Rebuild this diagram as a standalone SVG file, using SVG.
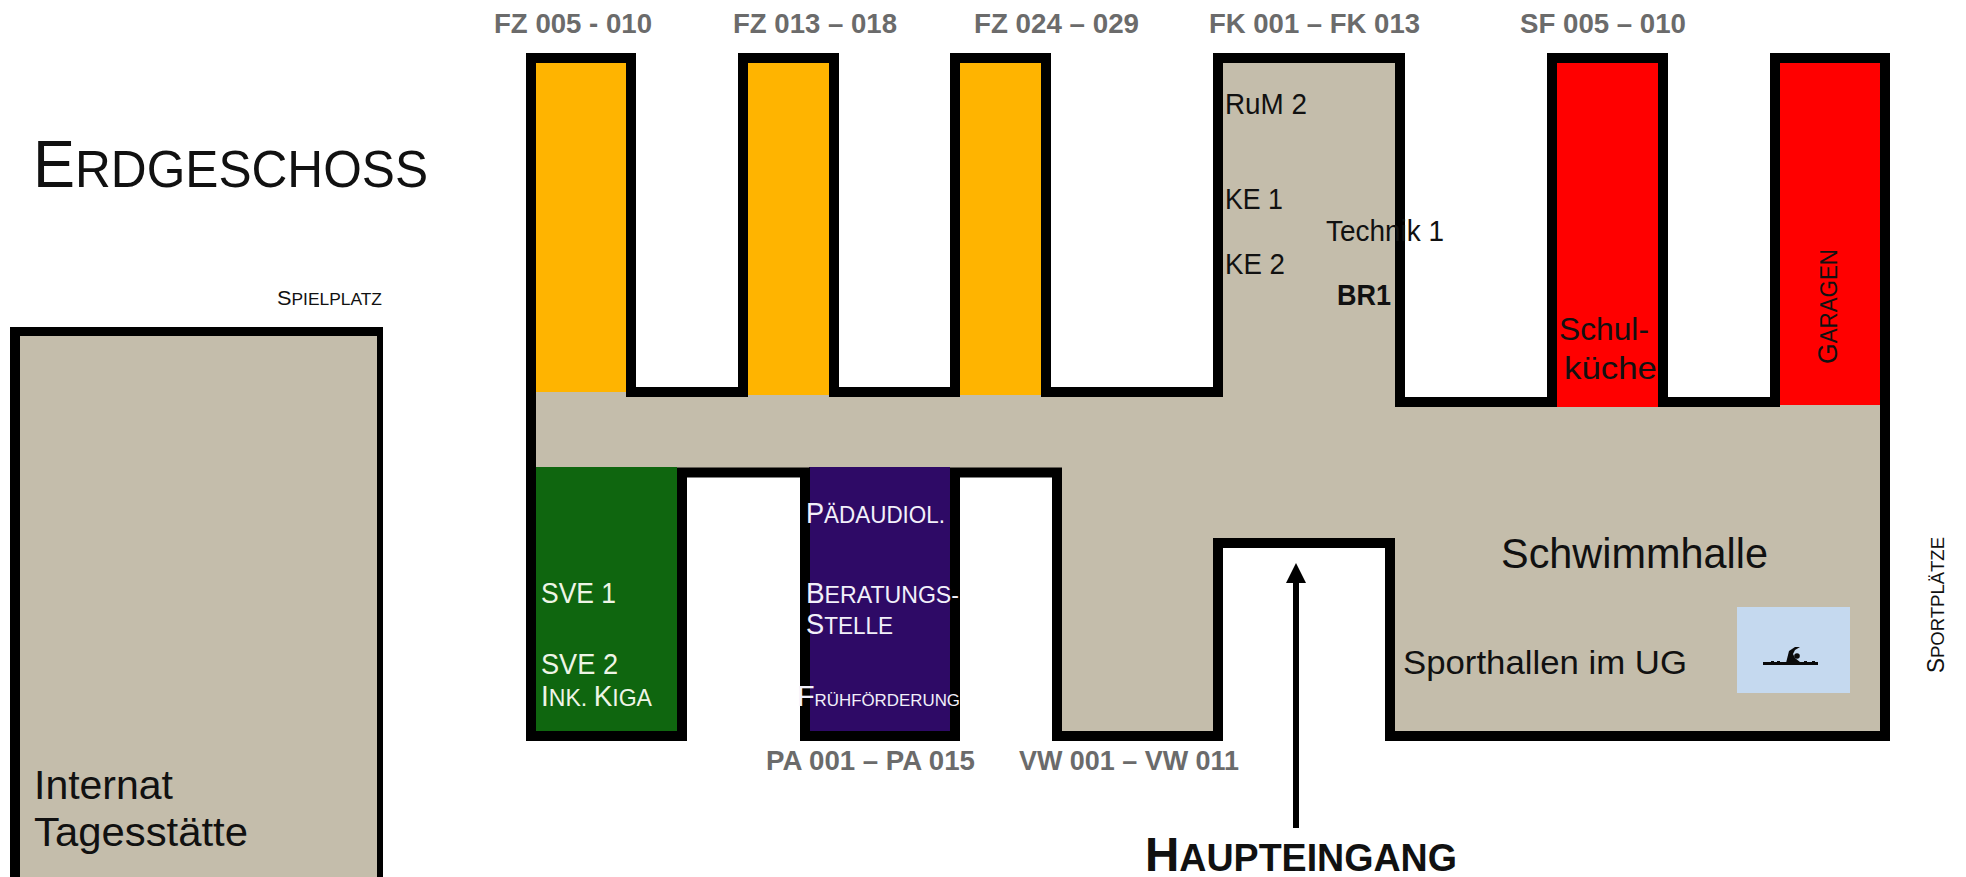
<svg xmlns="http://www.w3.org/2000/svg" width="1966" height="877" viewBox="0 0 1966 877">
<style>
text{font-family:"Liberation Sans",Arial,sans-serif;fill:#111}
.code{font-size:28px;font-weight:bold;fill:#6b6b6b}
.room{font-size:29px}
.lt{fill:#f2f0fa}
.gr{fill:#eef5e6}
.wall{fill:none;stroke:#000;stroke-width:10;stroke-linejoin:miter}
</style>
<defs>
<marker id="head" markerUnits="userSpaceOnUse" markerWidth="20" markerHeight="20" refX="0" refY="10" orient="auto"><path d="M0,0L20,10L0,20Z" fill="#000"/></marker>
</defs>
<rect width="1966" height="877" fill="#fff"/>
<text id="title" x="33" y="187" font-size="66" textLength="395" lengthAdjust="spacingAndGlyphs">E<tspan font-size="52">RDGESCHOSS</tspan></text>
<g id="internat">
<rect x="10" y="327" width="373" height="560" fill="#000"/>
<rect x="20" y="336" width="357" height="551" fill="#c4bdab"/>
<text x="34" y="799" font-size="41" textLength="139" lengthAdjust="spacingAndGlyphs">Internat</text>
<text x="34" y="846" font-size="41" textLength="214" lengthAdjust="spacingAndGlyphs">Tagesstätte</text>
<text x="277" y="305" font-size="20" textLength="105" lengthAdjust="spacingAndGlyphs">S<tspan font-size="16">PIELPLATZ</tspan></text>
</g>
<g id="building">
<path d="M531,58H631V392H743V58H834V392H955V58H1046V392H1218V58H1400V402H1552V58H1663V402H1775V58H1885V736H1390V543H1218V736H1057V472H955V736H805V472H682V736H531Z" fill="#c4bdab"/>
</g>
<g id="fz-wings">
<rect x="536" y="63" width="90" height="329" fill="#ffb400"/>
<rect x="748" y="63" width="81" height="332" fill="#ffb400"/>
<rect x="960" y="63" width="81" height="332" fill="#ffb400"/>
<text class="code" x="494" y="33" textLength="158" lengthAdjust="spacingAndGlyphs">FZ 005 - 010</text>
<text class="code" x="733" y="33" textLength="164" lengthAdjust="spacingAndGlyphs">FZ 013 – 018</text>
<text class="code" x="974" y="33" textLength="165" lengthAdjust="spacingAndGlyphs">FZ 024 – 029</text>
</g>
<g id="sf-wing">
<rect x="1557" y="63" width="102" height="344" fill="#f00"/>
<rect x="1780" y="63" width="100" height="342" fill="#f00"/>
</g>
<g id="sve-wing"><rect x="536" y="467" width="141" height="264" fill="#0f660f"/></g>
<g id="pa-wing"><rect x="809" y="467" width="141" height="264" fill="#2e0a66"/></g>
<path id="walls" class="wall" d="M531,741V58H631V392H743V58H834V392H955V58H1046V392H1218V58H1400V402H1552V58H1663V402H1775V58H1885V736H1390V543H1218V736H1057V472.500H955V736H805V472.500H682V736H526"/>
<g id="fk-labels">
<text class="code" x="1209" y="33" textLength="211" lengthAdjust="spacingAndGlyphs">FK 001 – FK 013</text>
<text class="room" x="1225" y="114" textLength="82" lengthAdjust="spacingAndGlyphs">RuM 2</text>
<text class="room" x="1225" y="209" textLength="58" lengthAdjust="spacingAndGlyphs">KE 1</text>
<text class="room" x="1225" y="274" textLength="60" lengthAdjust="spacingAndGlyphs">KE 2</text>
<text class="room" x="1326" y="241" textLength="118" lengthAdjust="spacingAndGlyphs">Technik 1</text>
<text class="room" x="1337" y="305" font-weight="bold" textLength="54" lengthAdjust="spacingAndGlyphs">BR1</text>
</g>
<g id="sf-labels">
<text class="code" x="1520" y="33" textLength="166" lengthAdjust="spacingAndGlyphs">SF 005 – 010</text>
<text x="1559" y="340" font-size="32" textLength="90" lengthAdjust="spacingAndGlyphs">Schul-</text>
<text x="1564" y="379" font-size="32" textLength="93" lengthAdjust="spacingAndGlyphs">küche</text>
<text transform="translate(1836.500,364) rotate(-90)" font-size="28" textLength="115" lengthAdjust="spacingAndGlyphs">G<tspan font-size="23.500">ARAGEN</tspan></text>
</g>
<g id="sve-labels">
<text class="room gr" x="541" y="603" textLength="75" lengthAdjust="spacingAndGlyphs">SVE 1</text>
<text class="room gr" x="541" y="674" textLength="77" lengthAdjust="spacingAndGlyphs">SVE 2</text>
<text class="room gr" x="541" y="706" textLength="111" lengthAdjust="spacingAndGlyphs">I<tspan font-size="24">NK. </tspan>K<tspan font-size="24">IGA</tspan></text>
</g>
<g id="pa-labels">
<text class="room lt" x="806" y="523" textLength="139" lengthAdjust="spacingAndGlyphs">P<tspan font-size="24">ÄDAUDIOL.</tspan></text>
<text class="room lt" x="806" y="603" textLength="153" lengthAdjust="spacingAndGlyphs">B<tspan font-size="24">ERATUNGS-</tspan></text>
<text class="room lt" x="806" y="634" textLength="87" lengthAdjust="spacingAndGlyphs">S<tspan font-size="24">TELLE</tspan></text>
<text class="room lt" x="797" y="706" font-size="30" textLength="163" lengthAdjust="spacingAndGlyphs">F<tspan font-size="17">RÜHFÖRDERUNG</tspan></text>
<text class="code" x="766" y="770" textLength="209" lengthAdjust="spacingAndGlyphs">PA 001 – PA 015</text>
<text class="code" x="1019" y="770" textLength="220" lengthAdjust="spacingAndGlyphs">VW 001 – VW 011</text>
</g>
<g id="schwimmhalle">
<text x="1501" y="568" font-size="42" textLength="267" lengthAdjust="spacingAndGlyphs">Schwimmhalle</text>
<text x="1403" y="674" font-size="34" textLength="284" lengthAdjust="spacingAndGlyphs">Sporthallen im UG</text>
<rect x="1737" y="607" width="113" height="86" fill="#c5d9ef"/>
<path d="M1763,663.500H1818" stroke="#0a0a0a" stroke-width="3" fill="none"/>
<path d="M1771,661h3v2h-3zM1777,661h3v2h-3zM1804,661h3v2h-3zM1812,661h3v2h-3z" fill="#0a0a0a"/>
<path d="M1786,663L1789,651L1795,647H1800L1795,650L1793,654L1795,658L1800,662V663Z" fill="#0a0a0a"/>
<circle cx="1797" cy="656" r="2.800" fill="#0a0a0a"/>
</g>
<text id="sportplaetze" transform="translate(1944,673) rotate(-90)" font-size="23" textLength="136" lengthAdjust="spacingAndGlyphs">S<tspan font-size="19">PORTPLÄTZE</tspan></text>
<g id="connectors">
<line x1="1296" y1="828" x2="1296" y2="583" stroke="#000" stroke-width="6" marker-end="url(#head)"/>
</g>
<text id="haupteingang" x="1145" y="871" font-size="48" font-weight="bold" textLength="312" lengthAdjust="spacingAndGlyphs">H<tspan font-size="38">AUPTEINGANG</tspan></text>
</svg>
